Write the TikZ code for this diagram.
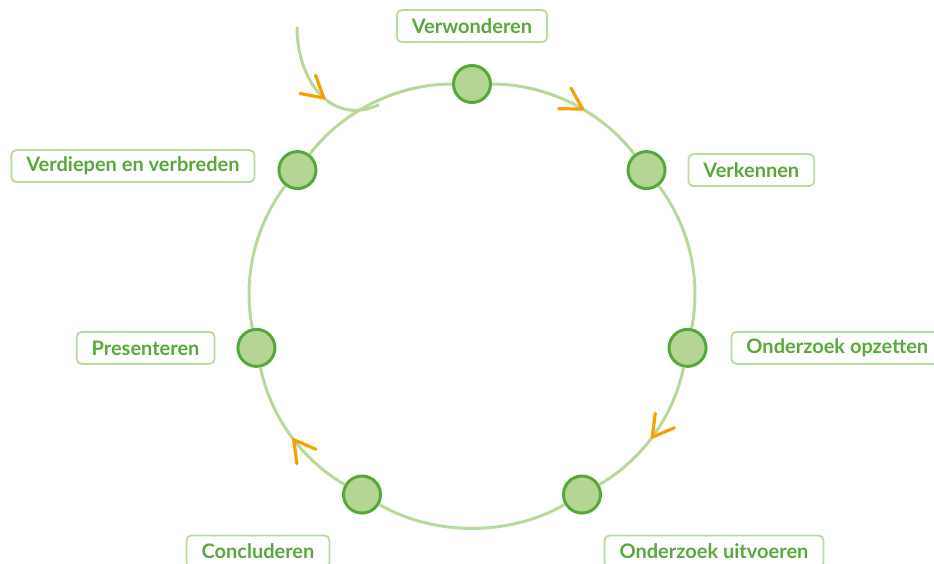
\documentclass[tikz,border=0pt]{standalone}
\usepackage{fontspec}
\setmainfont{Lato}
\usepackage{xcolor}
\usetikzlibrary{arrows.meta,decorations.markings,positioning}
\definecolor{ringgreen}{HTML}{B7D99A}
\definecolor{dotgreen}{HTML}{B5D594}
\definecolor{darkgreen}{HTML}{57A83B}
\definecolor{textgreen}{HTML}{57A93C}
\definecolor{tagline}{HTML}{BADBA0}
\definecolor{arroworange}{HTML}{F5A200}

\begin{document}
\begin{tikzpicture}[node distance=21pt]
    \tikzstyle{dot}=[circle, draw=darkgreen, fill=dotgreen, line width=3pt, minimum size=37pt, inner sep=0pt]
    \tikzstyle{tag}=[draw=tagline, line width=1.8pt, rounded corners=5pt, text=textgreen, font=\bfseries\fontsize{20}{24}\selectfont, minimum height=32pt, inner xsep=15pt]
    \tikzstyle{ring}=[draw=ringgreen, line width=3pt, looseness=0.88]
    \tikzstyle{flow}=[postaction={decorate, decoration={markings, mark=at position #1 with {\arrow{Straight Barb[length=21pt, width=24pt, line width=3.2pt 0, color=arroworange, round]}}}}]

    \useasboundingbox (-472pt,-259pt) rectangle (462pt,304pt);

    \node[dot] (1) at (90:220pt) {};
    \node[dot] (2) at (37.5:220pt) {};
    \node[dot] (3) at (-11.5:220pt) {};
    \node[dot] (4) at (-60:220pt) {};
    \node[dot] (5) at (-120:220pt) {};
    \node[dot] (6) at (-168.5:220pt) {};
    \node[dot] (7) at (142.5:220pt) {};

    \node[tag] (1L) [above=of 1] {Verwonderen};
    \node[tag] (2L) [right=of 2] {Verkennen};
    \node[tag] (3L) [right=23pt of 3] {Onderzoek opzetten};
    \node[tag] (4L) [below=20pt of 4, xshift=132pt] {Onderzoek uitvoeren};
    \node[tag] (5L) [below=20pt of 5, xshift=-104pt] {Concluderen};
    \node[tag] (6L) [left=of 6] {Presenteren};
    \node[tag] (7L) [left=22pt of 7, yshift=4pt] {Verdiepen en verbreden};

    \coordinate (0) at (-175pt,277pt);
    \coordinate (0e) at (115:220pt);

    \draw [ring, flow=0.58] (0) to[out=-90, in=205, looseness=1.2] (0e);
    \draw [ring, flow=0.59] (1) to[bend left=26.25] (2);
    \draw [ring] (2) to[bend left=24.5] (3);
    \draw [ring, flow=0.53] (3) to[bend left=24.25] (4);
    \draw [ring] (4) to[bend left=30] (5);
    \draw [ring, flow=0.47] (5) to[bend left=24.25] (6);
    \draw [ring] (6) to[bend left=24.5] (7);
    \draw [ring] (7) to[bend left=26.25] (1);
\end{tikzpicture}
\end{document}
